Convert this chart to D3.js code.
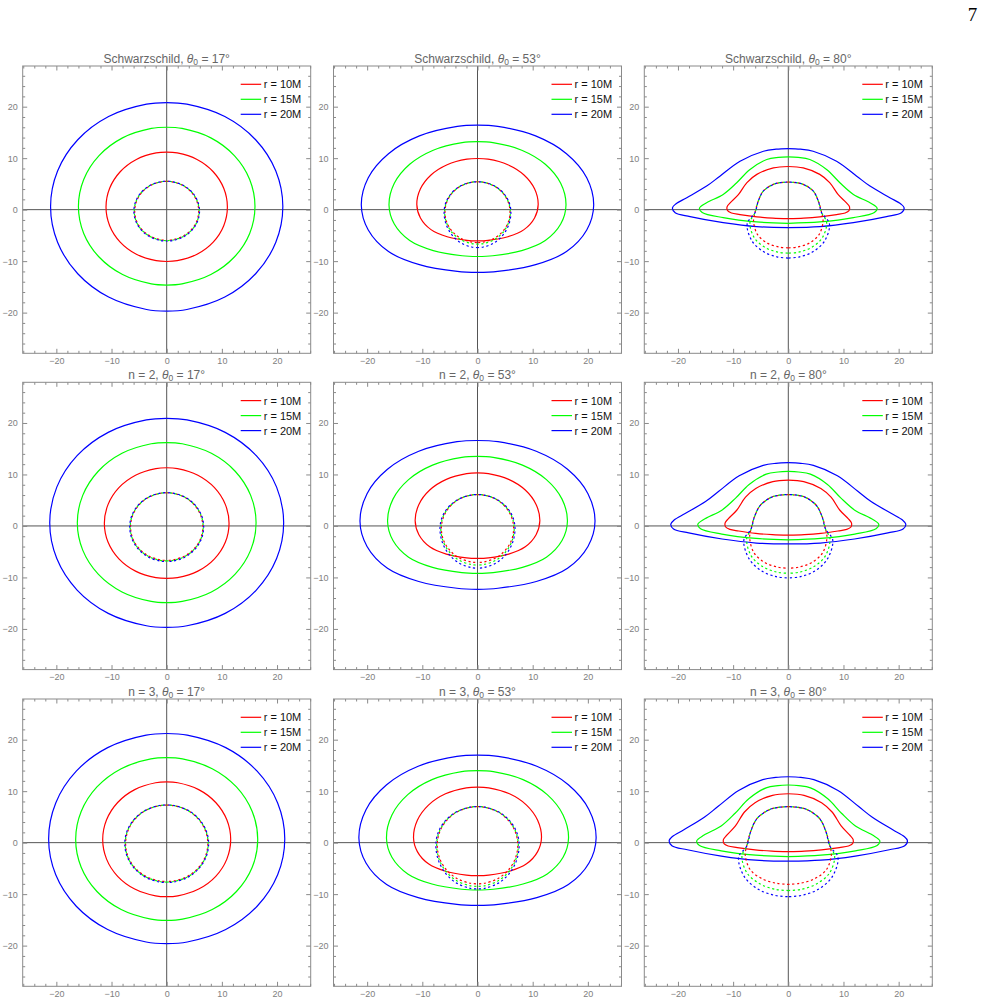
<!DOCTYPE html>
<html>
<head>
<meta charset="utf-8">
<script src="https://cdn.jsdelivr.net/npm/d3@7"></script>
<style>
  body { margin: 0; background: #fff; }
  svg { display: block; font-family: "Liberation Sans", Arial, sans-serif; }
</style>
</head>
<body>
<div id="chart"></div>
<script>
// panel labels
const rowNames = ["Schwarzschild", "n = 2", "n = 3"];
const inclinations = [17, 53, 80];
const radii = [10, 15, 20];
const lineColors = ["#ff0000", "#00ff00", "#0000ff"];

const majorTicks = [-20, -10, 0, 10, 20];
const minorTicks = [-26, -24, -22, -18, -16, -14, -12, -8, -6, -4, -2, 2, 4, 6, 8, 12, 14, 16, 18, 22, 24, 26];

// right halves of the isoradials (x, y in M), read from top (x = 0) round to bottom (x = 0)
// d* = direct image, g* = secondary image; each holds r = 10M, 15M, 20M
const dS17 = [
  [[0,11.17],[1.91,11.01],[5.5,9.74],[8.43,7.36],[10.34,4.15],[11.0,0.5],[10.34,-3.11],[8.43,-6.29],[5.5,-8.65],[1.91,-9.91],[0,-10.07]],
  [[0,16.0],[2.78,15.77],[8.0,13.94],[12.26,10.5],[15.04,5.87],[16.0,0.6],[15.04,-4.62],[12.26,-9.2],[8.0,-12.61],[2.78,-14.42],[0,-14.65]],
  [[0,20.8],[3.65,20.49],[10.53,18.09],[16.12,13.58],[19.78,7.51],[21.05,0.6],[19.78,-6.34],[16.12,-12.45],[10.53,-16.98],[3.65,-19.39],[0,-19.7]]
];
const gS17 = [
  [[0,5.5],[1.01,5.41],[2.9,4.72],[4.44,3.43],[5.45,1.68],[5.8,-0.3],[5.45,-2.23],[4.44,-3.93],[2.9,-5.19],[1.01,-5.86],[0,-5.95]],
  [[0,5.5],[1.02,5.41],[2.94,4.72],[4.5,3.43],[5.53,1.68],[5.88,-0.3],[5.53,-2.26],[4.5,-3.98],[2.94,-5.25],[1.02,-5.93],[0,-6.02]],
  [[0,5.52],[1.03,5.43],[2.98,4.74],[4.56,3.44],[5.59,1.69],[5.95,-0.3],[5.59,-2.28],[4.56,-4.03],[2.98,-5.32],[1.03,-6.01],[0,-6.1]]
];
const dS53 = [
  [[0,9.93],[1.91,9.8],[5.5,8.73],[8.43,6.74],[10.34,4.05],[11.0,1.0],[10.34,-1.62],[8.43,-3.88],[5.5,-5.26],[1.91,-5.96],[0,-6.07]],
  [[0,13.2],[2.79,13.02],[8.02,11.55],[12.29,8.81],[15.08,5.11],[16.04,0.9],[15.08,-2.8],[12.29,-6.0],[8.02,-7.95],[2.79,-8.95],[0,-9.1]],
  [[0,16.4],[3.66,16.17],[10.53,14.32],[16.13,10.87],[19.8,6.2],[21.06,0.9],[19.8,-3.95],[16.13,-8.14],[10.53,-10.69],[3.66,-12.0],[0,-12.2]]
];
const gS53 = [
  [[0,5.42],[1.02,5.33],[2.95,4.63],[4.52,3.31],[5.54,1.52],[5.9,-0.5],[5.54,-2.52],[4.52,-4.29],[2.95,-5.61],[1.02,-6.31],[0,-6.4]],
  [[0,5.42],[1.03,5.33],[2.98,4.63],[4.56,3.31],[5.59,1.52],[5.95,-0.5],[5.59,-2.62],[4.56,-4.49],[2.98,-5.87],[1.03,-6.61],[0,-6.7]],
  [[0,5.42],[1.05,5.33],[3.03,4.63],[4.63,3.31],[5.69,1.52],[6.05,-0.5],[5.69,-2.85],[4.63,-4.91],[3.03,-6.44],[1.05,-7.26],[0,-7.36]]
];
const dS80 = [
  [[0,8.38],[2.7,8.1],[5.7,6.85],[7.5,5.25],[9.05,2.9],[10.5,1.35],[11.1,0.55],[11.0,-0.2],[10.3,-0.65],[8.75,-0.95],[5.7,-1.4],[2.8,-1.65],[0,-1.75]],
  [[0,10.26],[1.8,10.15],[3.9,9.74],[6.94,7.8],[9.35,5.23],[11.8,2.96],[14.8,1.35],[16.1,0.3],[15.6,-0.55],[11.8,-1.55],[5.73,-2.39],[0,-2.65]],
  [[0,11.87],[2.2,11.75],[4.5,11.35],[8.75,9.4],[12.4,6.5],[14.8,4.57],[18.4,2.32],[20.4,1.1],[21.0,0.35],[20.5,-0.6],[17.8,-1.35],[11.8,-2.52],[5.73,-3.3],[0,-3.49]]
];
const gS80 = [
  [[0,5.35],[1.4,5.25],[2.72,4.9],[4.53,3.6],[5.44,1.67],[6.04,-0.58],[6.3,-2.2],[5.6,-4.8],[3.8,-6.5],[1.7,-7.25],[0,-7.42]],
  [[0,5.35],[1.4,5.25],[2.72,4.9],[4.53,3.6],[5.44,1.67],[6.04,-0.58],[6.95,-2.5],[6.15,-5.48],[4.15,-7.37],[1.9,-8.25],[0,-8.45]],
  [[0,5.35],[1.4,5.25],[2.72,4.9],[4.53,3.6],[5.44,1.67],[6.04,-0.58],[7.45,-2.7],[6.6,-6.05],[4.45,-8.19],[2.05,-9.17],[0,-9.4]]
];

const dN2_17 = [
  [[0,11.3],[1.96,11.14],[5.65,9.85],[8.66,7.44],[10.62,4.19],[11.3,0.5],[10.62,-3.16],[8.66,-6.38],[5.65,-8.77],[1.96,-10.04],[0,-10.2]],
  [[0,16.2],[2.81,15.96],[8.1,14.11],[12.41,10.63],[15.22,5.94],[16.2,0.6],[15.22,-4.7],[12.41,-9.36],[8.1,-12.82],[2.81,-14.66],[0,-14.9]],
  [[0,20.9],[3.68,20.59],[10.6,18.18],[16.24,13.65],[19.92,7.54],[21.2,0.6],[19.92,-6.34],[16.24,-12.45],[10.6,-16.98],[3.68,-19.39],[0,-19.7]]
];
const gN2_17 = [
  [[0,6.45],[1.14,6.35],[3.28,5.56],[5.02,4.07],[6.16,2.07],[6.55,-0.2],[6.16,-2.42],[5.02,-4.38],[3.28,-5.83],[1.14,-6.6],[0,-6.7]],
  [[0,6.45],[1.15,6.35],[3.31,5.56],[5.07,4.07],[6.22,2.07],[6.62,-0.2],[6.22,-2.46],[5.07,-4.44],[3.31,-5.92],[1.15,-6.7],[0,-6.8]],
  [[0,6.47],[1.16,6.37],[3.35,5.58],[5.13,4.08],[6.3,2.08],[6.7,-0.2],[6.3,-2.5],[5.13,-4.52],[3.35,-6.02],[1.16,-6.82],[0,-6.92]]
];
const dN2_53 = [
  [[0,10.3],[1.97,10.16],[5.65,9.05],[8.66,6.98],[10.62,4.18],[11.3,1.0],[10.62,-1.7],[8.66,-4.04],[5.65,-5.46],[1.97,-6.19],[0,-6.3]],
  [[0,13.5],[2.84,13.31],[8.15,11.81],[12.49,9.0],[15.32,5.21],[16.3,0.9],[15.32,-2.84],[12.49,-6.07],[8.15,-8.04],[2.84,-9.05],[0,-9.2]],
  [[0,16.6],[3.71,16.36],[10.65,14.5],[16.32,11.0],[20.02,6.27],[21.3,0.9],[20.02,-3.98],[16.32,-8.21],[10.65,-10.78],[3.71,-12.1],[0,-12.3]]
];
const gN2_53 = [
  [[0,6.1],[1.14,6.0],[3.28,5.22],[5.02,3.74],[6.16,1.76],[6.55,-0.5],[6.16,-2.76],[5.02,-4.74],[3.28,-6.22],[1.14,-7.0],[0,-7.1]],
  [[0,6.1],[1.15,6.0],[3.33,5.22],[5.09,3.74],[6.25,1.76],[6.65,-0.5],[6.25,-2.93],[5.09,-5.06],[3.33,-6.65],[1.15,-7.49],[0,-7.6]],
  [[0,6.1],[1.18,6.0],[3.4,5.22],[5.21,3.74],[6.39,1.76],[6.8,-0.5],[6.39,-3.13],[5.21,-5.45],[3.4,-7.17],[1.18,-8.08],[0,-8.2]]
];
const dN2_80 = [
  [[0,8.9],[2.8,8.6],[5.9,7.27],[7.75,5.58],[9.35,3.05],[10.85,1.43],[11.45,0.58],[11.35,-0.2],[10.6,-0.67],[9.0,-0.98],[5.9,-1.45],[2.9,-1.7],[0,-1.8]],
  [[0,10.6],[1.85,10.48],[4.0,10.06],[7.1,8.06],[9.55,5.4],[12.05,3.06],[15.1,1.39],[16.4,0.31],[15.9,-0.56],[12.05,-1.58],[5.85,-2.43],[0,-2.7]],
  [[0,12.3],[2.25,12.17],[4.55,11.76],[8.9,9.74],[12.6,6.73],[15.0,4.73],[18.7,2.4],[20.7,1.14],[21.3,0.36],[20.8,-0.6],[18.05,-1.36],[12.0,-2.54],[5.8,-3.32],[0,-3.5]]
];
const gN2_80 = [
  [[0,6.1],[1.55,5.98],[3.0,5.6],[5.0,4.1],[6.1,1.9],[6.75,-0.6],[7.0,-2.3],[6.2,-5.25],[4.2,-7.13],[1.9,-8.0],[0,-8.2]],
  [[0,6.1],[1.55,5.98],[3.0,5.6],[5.0,4.1],[6.1,1.9],[6.75,-0.6],[7.55,-2.5],[6.7,-5.85],[4.5,-7.99],[2.05,-8.97],[0,-9.2]],
  [[0,6.1],[1.55,5.98],[3.0,5.6],[5.0,4.1],[6.1,1.9],[6.75,-0.6],[8.05,-2.7],[7.1,-6.4],[4.8,-8.76],[2.2,-9.85],[0,-10.1]]
];

const dN3_17 = [
  [[0,11.8],[2.01,11.63],[5.8,10.3],[8.89,7.8],[10.9,4.43],[11.6,0.6],[10.9,-3.2],[8.89,-6.54],[5.8,-9.01],[2.01,-10.33],[0,-10.5]],
  [[0,16.5],[2.86,16.26],[8.25,14.37],[12.64,10.82],[15.5,6.04],[16.5,0.6],[15.5,-4.77],[12.64,-9.49],[8.25,-13.0],[2.86,-14.86],[0,-15.1]],
  [[0,21.2],[3.72,20.89],[10.7,18.45],[16.39,13.88],[20.11,7.71],[21.4,0.7],[20.11,-6.24],[16.39,-12.35],[10.7,-16.88],[3.72,-19.29],[0,-19.6]]
];
const gN3_17 = [
  [[0,7.3],[1.29,7.19],[3.73,6.3],[5.71,4.62],[7.0,2.37],[7.45,-0.2],[7.0,-2.71],[5.71,-4.92],[3.73,-6.57],[1.29,-7.44],[0,-7.55]],
  [[0,7.3],[1.31,7.19],[3.76,6.3],[5.76,4.62],[7.07,2.37],[7.52,-0.2],[7.07,-2.75],[5.76,-4.99],[3.76,-6.65],[1.31,-7.54],[0,-7.65]],
  [[0,7.32],[1.32,7.21],[3.8,6.32],[5.82,4.63],[7.14,2.38],[7.6,-0.2],[7.14,-2.78],[5.82,-5.05],[3.8,-6.74],[1.32,-7.64],[0,-7.75]]
];
const dN3_53 = [
  [[0,10.8],[2.02,10.65],[5.8,9.49],[8.89,7.3],[10.9,4.35],[11.6,1.0],[10.9,-1.74],[8.89,-4.11],[5.8,-5.55],[2.02,-6.29],[0,-6.4]],
  [[0,14.0],[2.87,13.8],[8.25,12.24],[12.64,9.32],[15.51,5.38],[16.5,0.9],[15.51,-2.84],[12.64,-6.07],[8.25,-8.04],[2.87,-9.05],[0,-9.2]],
  [[0,17.0],[3.74,16.76],[10.75,14.84],[16.47,11.25],[20.21,6.41],[21.5,0.9],[20.21,-3.95],[16.47,-8.14],[10.75,-10.69],[3.74,-12.0],[0,-12.2]]
];
const gN3_53 = [
  [[0,7.0],[1.27,6.89],[3.65,6.0],[5.59,4.32],[6.86,2.07],[7.3,-0.5],[6.86,-3.07],[5.59,-5.32],[3.65,-7.0],[1.27,-7.89],[0,-8.0]],
  [[0,7.0],[1.28,6.89],[3.7,6.0],[5.67,4.32],[6.95,2.07],[7.4,-0.5],[6.95,-3.24],[5.67,-5.64],[3.7,-7.43],[1.28,-8.38],[0,-8.5]],
  [[0,7.0],[1.31,6.89],[3.78,6.0],[5.78,4.32],[7.09,2.07],[7.55,-0.5],[7.09,-3.41],[5.78,-5.96],[3.78,-7.86],[1.31,-8.87],[0,-9.0]]
];
const dN3_80 = [
  [[0,9.5],[2.85,9.19],[6.03,7.77],[7.94,5.95],[9.58,3.25],[11.1,1.5],[11.75,0.62],[11.65,-0.2],[10.9,-0.65],[9.25,-0.95],[6.03,-1.4],[2.95,-1.65],[0,-1.75]],
  [[0,11.2],[1.86,11.08],[4.02,10.64],[7.16,8.52],[9.64,5.71],[12.17,3.23],[15.26,1.47],[16.6,0.33],[16.1,-0.56],[12.17,-1.58],[5.9,-2.43],[0,-2.7]],
  [[0,12.8],[2.26,12.67],[4.63,12.24],[9.0,10.13],[12.76,7.01],[15.23,4.93],[18.93,2.5],[21.0,1.19],[21.6,0.38],[21.1,-0.6],[18.3,-1.38],[12.14,-2.6],[5.9,-3.4],[0,-3.6]]
];
const gN3_80 = [
  [[0,7.0],[1.75,6.86],[3.4,6.42],[5.66,4.7],[6.8,2.2],[7.55,-0.7],[7.8,-2.4],[6.9,-5.25],[4.65,-7.07],[2.1,-7.9],[0,-8.1]],
  [[0,7.0],[1.75,6.86],[3.4,6.42],[5.66,4.7],[6.8,2.2],[7.55,-0.7],[8.4,-2.6],[7.45,-5.95],[5.0,-8.09],[2.3,-9.07],[0,-9.3]],
  [[0,7.0],[1.75,6.86],[3.4,6.42],[5.66,4.7],[6.8,2.2],[7.55,-0.7],[9.0,-2.8],[7.95,-6.65],[5.35,-9.11],[2.45,-10.24],[0,-10.5]]
];

const panelData = [
  [[dS17, gS17], [dS53, gS53], [dS80, gS80]],
  [[dN2_17, gN2_17], [dN2_53, gN2_53], [dN2_80, gN2_80]],
  [[dN3_17, gN3_17], [dN3_53, gN3_53], [dN3_80, gN3_80]]
];

const width = 983, height = 1002;
const colLeft = [22.7, 333.5, 644.3];
const rowTop = [66, 382.3, 699];
const panelW = 288, panelH = 287.3;

const svg = d3.select("#chart").append("svg")
  .attr("width", width)
  .attr("height", height);

svg.append("rect").attr("width", width).attr("height", height).attr("fill", "#fff");

// page number
svg.append("text")
  .attr("x", 972.5).attr("y", 20.5)
  .attr("text-anchor", "middle")
  .style("font-family", "'Liberation Serif', 'Times New Roman', serif")
  .style("font-size", "19px")
  .attr("fill", "#000")
  .text("7");

const line = d3.line().curve(d3.curveCatmullRom.alpha(0.5));

rowNames.forEach((rowName, ri) => {
  inclinations.forEach((theta, ci) => {
    const left = colLeft[ci], top = rowTop[ri];
    const x = d3.scaleLinear().domain([-26.1, 26.1]).range([left, left + panelW]);
    const y = d3.scaleLinear().domain([-27.9, 27.9]).range([top + panelH, top]);
    const g = svg.append("g");
    const clipId = `clip-${ri}-${ci}`;

    g.append("clipPath").attr("id", clipId)
      .append("rect").attr("x", left).attr("y", top).attr("width", panelW).attr("height", panelH);

    // title
    const title = g.append("text")
      .attr("x", left + panelW / 2).attr("y", top - 3.5)
      .attr("text-anchor", "middle")
      .style("font-size", "12px")
      .attr("fill", "#666");
    title.append("tspan").text(rowName + ", ");
    title.append("tspan").style("font-style", "italic").text("θ");
    title.append("tspan").style("font-size", "8.5px").attr("dy", 2.5).text("0");
    title.append("tspan").attr("dy", -2.5).text(" = " + theta + "°");

    // axes through origin
    g.append("line").attr("x1", x(0)).attr("x2", x(0)).attr("y1", top).attr("y2", top + panelH)
      .attr("stroke", "#555").attr("stroke-width", 1);
    g.append("line").attr("x1", left).attr("x2", left + panelW).attr("y1", y(0)).attr("y2", y(0))
      .attr("stroke", "#555").attr("stroke-width", 1);

    // frame ticks
    const tickStyle = sel => {
      sel.select(".domain").remove();
      sel.selectAll("line").attr("stroke", "#8a8a8a");
      sel.selectAll("text").attr("fill", "#808080").style("font-size", "9px")
        .style("font-family", "'Liberation Sans', Arial, sans-serif");
    };
    const fmt = d3.format("d");
    g.append("g").attr("transform", `translate(0,${top + panelH})`)
      .call(d3.axisBottom(x).tickValues(majorTicks).tickFormat(fmt).tickSizeInner(-4.5).tickSizeOuter(0).tickPadding(4))
      .call(tickStyle);
    g.append("g").attr("transform", `translate(0,${top + panelH})`)
      .call(d3.axisBottom(x).tickValues(minorTicks).tickFormat("").tickSizeInner(-2.5).tickSizeOuter(0))
      .call(tickStyle);
    g.append("g").attr("transform", `translate(0,${top})`)
      .call(d3.axisTop(x).tickValues(majorTicks).tickFormat("").tickSizeInner(-4.5).tickSizeOuter(0))
      .call(tickStyle);
    g.append("g").attr("transform", `translate(0,${top})`)
      .call(d3.axisTop(x).tickValues(minorTicks).tickFormat("").tickSizeInner(-2.5).tickSizeOuter(0))
      .call(tickStyle);
    g.append("g").attr("transform", `translate(${left},0)`)
      .call(d3.axisLeft(y).tickValues(majorTicks).tickFormat(fmt).tickSizeInner(-4.5).tickSizeOuter(0).tickPadding(5))
      .call(tickStyle);
    g.append("g").attr("transform", `translate(${left},0)`)
      .call(d3.axisLeft(y).tickValues(minorTicks).tickFormat("").tickSizeInner(-2.5).tickSizeOuter(0))
      .call(tickStyle);
    g.append("g").attr("transform", `translate(${left + panelW},0)`)
      .call(d3.axisRight(y).tickValues(majorTicks).tickFormat("").tickSizeInner(-4.5).tickSizeOuter(0))
      .call(tickStyle);
    g.append("g").attr("transform", `translate(${left + panelW},0)`)
      .call(d3.axisRight(y).tickValues(minorTicks).tickFormat("").tickSizeInner(-2.5).tickSizeOuter(0))
      .call(tickStyle);

    g.append("rect")
      .attr("x", left).attr("y", top).attr("width", panelW).attr("height", panelH)
      .attr("fill", "none").attr("stroke", "#8a8a8a").attr("stroke-width", 1);

    // isoradials: right half drawn, then mirrored about x = 0
    const plot = g.append("g").attr("clip-path", `url(#${clipId})`);
    line.x(d => x(d[0])).y(d => y(d[1]));
    const [direct, ghost] = panelData[ri][ci];
    const mirror = `translate(${2 * x(0)},0) scale(-1,1)`;
    const drawHalf = (pts, color, dashed, offset) => {
      [null, mirror].forEach(tr => {
        const p = plot.append("path")
          .attr("d", line(pts))
          .attr("fill", "none")
          .attr("stroke", color)
          .attr("stroke-width", 1.2);
        if (tr) p.attr("transform", tr);
        if (dashed) p.attr("stroke-dasharray", "2.2,2.6").attr("stroke-dashoffset", offset);
      });
    };
    direct.forEach((pts, k) => drawHalf(pts, lineColors[k], false, 0));
    ghost.forEach((pts, k) => drawHalf(pts, lineColors[k], true, k * 1.6));

    // legend
    const lg = g.append("g");
    radii.forEach((r, k) => {
      const ly = top + 18.3 + k * 15;
      lg.append("line")
        .attr("x1", left + panelW - 70).attr("x2", left + panelW - 49.5)
        .attr("y1", ly).attr("y2", ly)
        .attr("stroke", lineColors[k]).attr("stroke-width", 1.2);
      lg.append("text")
        .attr("x", left + panelW - 47).attr("y", ly + 4)
        .style("font-size", "11px")
        .attr("fill", "#111")
        .text(`r = ${r}M`);
    });
  });
});
</script>
</body>
</html>
